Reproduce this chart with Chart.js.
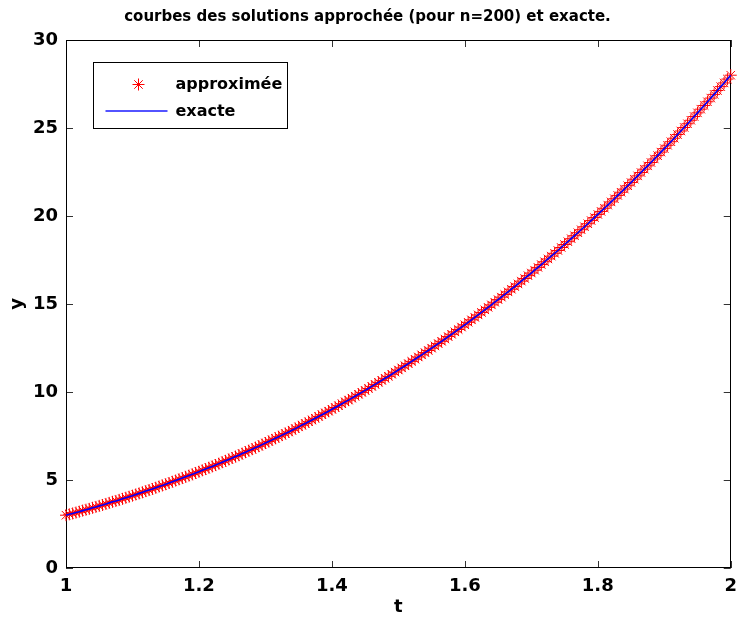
<!DOCTYPE html>
<html>
<head>
<meta charset="utf-8">
<title>courbes des solutions</title>
<script src="https://cdn.jsdelivr.net/npm/chart.js@4/dist/chart.umd.min.js"></script>
<style>
  html, body { margin: 0; padding: 0; background: #fff; }
  canvas { display: block; }
</style>
</head>
<body>
<canvas id="courbes" width="745" height="624"></canvas>
<script>
// valeurs de t (n = 200, pas de 0.005)
const tValeurs = [
  1.000, 1.005, 1.010, 1.015, 1.020, 1.025, 1.030, 1.035, 1.040, 1.045,
  1.050, 1.055, 1.060, 1.065, 1.070, 1.075, 1.080, 1.085, 1.090, 1.095,
  1.100, 1.105, 1.110, 1.115, 1.120, 1.125, 1.130, 1.135, 1.140, 1.145,
  1.150, 1.155, 1.160, 1.165, 1.170, 1.175, 1.180, 1.185, 1.190, 1.195,
  1.200, 1.205, 1.210, 1.215, 1.220, 1.225, 1.230, 1.235, 1.240, 1.245,
  1.250, 1.255, 1.260, 1.265, 1.270, 1.275, 1.280, 1.285, 1.290, 1.295,
  1.300, 1.305, 1.310, 1.315, 1.320, 1.325, 1.330, 1.335, 1.340, 1.345,
  1.350, 1.355, 1.360, 1.365, 1.370, 1.375, 1.380, 1.385, 1.390, 1.395,
  1.400, 1.405, 1.410, 1.415, 1.420, 1.425, 1.430, 1.435, 1.440, 1.445,
  1.450, 1.455, 1.460, 1.465, 1.470, 1.475, 1.480, 1.485, 1.490, 1.495,
  1.500, 1.505, 1.510, 1.515, 1.520, 1.525, 1.530, 1.535, 1.540, 1.545,
  1.550, 1.555, 1.560, 1.565, 1.570, 1.575, 1.580, 1.585, 1.590, 1.595,
  1.600, 1.605, 1.610, 1.615, 1.620, 1.625, 1.630, 1.635, 1.640, 1.645,
  1.650, 1.655, 1.660, 1.665, 1.670, 1.675, 1.680, 1.685, 1.690, 1.695,
  1.700, 1.705, 1.710, 1.715, 1.720, 1.725, 1.730, 1.735, 1.740, 1.745,
  1.750, 1.755, 1.760, 1.765, 1.770, 1.775, 1.780, 1.785, 1.790, 1.795,
  1.800, 1.805, 1.810, 1.815, 1.820, 1.825, 1.830, 1.835, 1.840, 1.845,
  1.850, 1.855, 1.860, 1.865, 1.870, 1.875, 1.880, 1.885, 1.890, 1.895,
  1.900, 1.905, 1.910, 1.915, 1.920, 1.925, 1.930, 1.935, 1.940, 1.945,
  1.950, 1.955, 1.960, 1.965, 1.970, 1.975, 1.980, 1.985, 1.990, 1.995,
  2.000
];

// solution approchée
const yApprochee = [
  3.00, 3.05, 3.10, 3.15, 3.20, 3.26, 3.31, 3.36, 3.42, 3.47,
  3.53, 3.58, 3.64, 3.70, 3.76, 3.81, 3.87, 3.93, 3.99, 4.05,
  4.11, 4.18, 4.24, 4.30, 4.37, 4.43, 4.49, 4.56, 4.63, 4.69,
  4.76, 4.83, 4.90, 4.97, 5.04, 5.11, 5.18, 5.25, 5.32, 5.40,
  5.47, 5.55, 5.62, 5.70, 5.77, 5.85, 5.93, 6.01, 6.09, 6.17,
  6.25, 6.33, 6.41, 6.50, 6.58, 6.67, 6.75, 6.84, 6.92, 7.01,
  7.10, 7.19, 7.28, 7.37, 7.46, 7.55, 7.64, 7.73, 7.83, 7.92,
  8.02, 8.12, 8.21, 8.31, 8.41, 8.51, 8.61, 8.71, 8.81, 8.91,
  9.02, 9.12, 9.22, 9.33, 9.44, 9.54, 9.65, 9.76, 9.87, 9.98,
  10.09, 10.20, 10.32, 10.43, 10.55, 10.66, 10.78, 10.89, 11.01, 11.13,
  11.25, 11.37, 11.49, 11.61, 11.74, 11.86, 11.99, 12.11, 12.24, 12.36,
  12.49, 12.62, 12.75, 12.88, 13.01, 13.15, 13.28, 13.42, 13.55, 13.69,
  13.82, 13.96, 14.10, 14.24, 14.38, 14.52, 14.67, 14.81, 14.95, 15.10,
  15.25, 15.39, 15.54, 15.69, 15.84, 15.99, 16.14, 16.30, 16.45, 16.61,
  16.76, 16.92, 17.08, 17.24, 17.40, 17.56, 17.72, 17.88, 18.04, 18.21,
  18.38, 18.54, 18.71, 18.88, 19.05, 19.22, 19.39, 19.56, 19.74, 19.91,
  20.09, 20.26, 20.44, 20.62, 20.80, 20.98, 21.17, 21.35, 21.53, 21.72,
  21.90, 22.09, 22.28, 22.47, 22.66, 22.85, 23.04, 23.24, 23.43, 23.63,
  23.83, 24.02, 24.22, 24.42, 24.63, 24.83, 25.03, 25.24, 25.44, 25.65,
  25.86, 26.07, 26.28, 26.49, 26.70, 26.91, 27.13, 27.35, 27.56, 27.78,
  28.00
];

// solution exacte : confondue avec l'approchée sur la figure
const yExacte = yApprochee;

const xTickLabels = ['1', '1.2', '1.4', '1.6', '1.8', '2'];
const yTickLabels = ['0', '5', '10', '15', '20', '25', '30'];

const police = "'DejaVu Sans', sans-serif";

const toPoints = (ys) => tValeurs.map((t, i) => ({ x: t, y: ys[i] }));

// cadre façon MATLAB + graduations vers l'intérieur
const cadrePlugin = {
    id: 'cadre',
    beforeDatasetsDraw(chart) {
        const { ctx, chartArea: a, scales } = chart;
        const tick = 7;
        ctx.save();
        ctx.strokeStyle = '#333';
        ctx.lineWidth = 1;
        ctx.beginPath();
        scales.x.ticks.forEach((tk) => {
            const px = Math.round(scales.x.getPixelForValue(tk.value)) + 0.5;
            ctx.moveTo(px, a.bottom); ctx.lineTo(px, a.bottom - tick);
            ctx.moveTo(px, a.top); ctx.lineTo(px, a.top + tick);
        });
        scales.y.ticks.forEach((tk) => {
            const py = Math.round(scales.y.getPixelForValue(tk.value)) + 0.5;
            ctx.moveTo(a.left, py); ctx.lineTo(a.left + tick, py);
            ctx.moveTo(a.right, py); ctx.lineTo(a.right - tick, py);
        });
        ctx.stroke();
        ctx.strokeStyle = '#000';
        ctx.strokeRect(Math.round(a.left) + 0.5, Math.round(a.top) + 0.5,
            Math.round(a.width) - 1, Math.round(a.height) - 1);
        ctx.restore();
    }
};

// légende dans le coin haut gauche
const legendePlugin = {
    id: 'legende',
    afterDatasetsDraw(chart) {
        const { ctx, chartArea: a } = chart;
        const bx = Math.round(a.left) + 27.5, by = Math.round(a.top) + 22.5;
        const bw = 194, bh = 66;
        ctx.save();
        ctx.fillStyle = '#fff';
        ctx.fillRect(bx, by, bw, bh);
        ctx.strokeStyle = '#000';
        ctx.lineWidth = 1;
        ctx.strokeRect(bx, by, bw, bh);

        ctx.save();
        ctx.strokeStyle = '#ff0000';
        ctx.fillStyle = '#ff0000';
        Chart.helpers.drawPoint(ctx, { pointStyle: 'star', radius: 6, rotation: 0, borderWidth: 1 }, bx + 45, by + 22);
        ctx.restore();

        // trait de la solution exacte
        ctx.beginPath();
        ctx.strokeStyle = '#1a1aff';
        ctx.lineWidth = 1.5;
        ctx.moveTo(bx + 12, by + 48.5);
        ctx.lineTo(bx + 74, by + 48.5);
        ctx.stroke();

        ctx.fillStyle = '#000';
        ctx.font = "bold 16px " + police;
        ctx.textBaseline = 'middle';
        ctx.fillText('approximée', bx + 82, by + 22);
        ctx.fillText('exacte', bx + 82, by + 49);
        ctx.restore();
    }
};

const fondBlanc = {
    id: 'fondBlanc',
    beforeDraw(chart) {
        const { ctx, width, height } = chart;
        ctx.save();
        ctx.fillStyle = '#fff';
        ctx.fillRect(0, 0, width, height);
        ctx.restore();
    }
};

const ctx = document.getElementById('courbes').getContext('2d');
const courbes = new Chart(ctx, {
    type: 'scatter',
    data: {
        datasets: [
            {
                label: 'exacte',
                data: toPoints(yExacte),
                showLine: true,
                borderColor: '#0000ff',
                borderWidth: 1.6,
                pointRadius: 0,
                tension: 0,
                order: 0
            },
            {
                label: 'approximée',
                data: toPoints(yApprochee),
                showLine: false,
                pointStyle: 'star',
                pointRadius: 6,
                pointBorderWidth: 1,
                pointBorderColor: '#ff0000',
                pointBackgroundColor: '#ff0000',
                order: 1
            }
        ]
    },
    options: {
        responsive: false,
        animation: false,
        devicePixelRatio: 1,
        clip: false,
        layout: { padding: { left: 0, right: 10, top: 0, bottom: 0 } },
        plugins: {
            legend: { display: false },
            tooltip: { enabled: false },
            title: {
                display: true,
                text: 'courbes des solutions approchée (pour n=200) et exacte.',
                color: '#000',
                font: { family: police, size: 15, weight: 'bold', lineHeight: 1.2 },
                padding: { top: 8, bottom: 14 }
            }
        },
        scales: {
            x: {
                type: 'linear',
                min: 1,
                max: 2,
                grid: { display: false, drawTicks: false },
                border: { display: false },
                ticks: {
                    stepSize: 0.2,
                    padding: 8,
                    color: '#000',
                    maxRotation: 0,
                    font: { family: police, size: 18, weight: 'bold' },
                    callback: (v, i) => xTickLabels[i]
                },
                title: {
                    display: true,
                    text: 't',
                    color: '#000',
                    font: { family: police, size: 18, weight: 'bold' },
                    padding: { top: 0, bottom: 6 }
                },
                afterFit: (scale) => { scale.height = 56; }
            },
            y: {
                type: 'linear',
                min: 0,
                max: 30,
                grid: { display: false, drawTicks: false },
                border: { display: false },
                ticks: {
                    stepSize: 5,
                    padding: 8,
                    color: '#000',
                    font: { family: police, size: 18, weight: 'bold' },
                    callback: (v, i) => yTickLabels[i]
                },
                title: {
                    display: true,
                    text: 'y',
                    color: '#000',
                    font: { family: police, size: 18, weight: 'bold' },
                    padding: { top: 7, bottom: 0 }
                },
                afterFit: (scale) => { scale.width = 66; }
            }
        }
    },
    plugins: [fondBlanc, cadrePlugin, legendePlugin]
});
</script>
</body>
</html>
